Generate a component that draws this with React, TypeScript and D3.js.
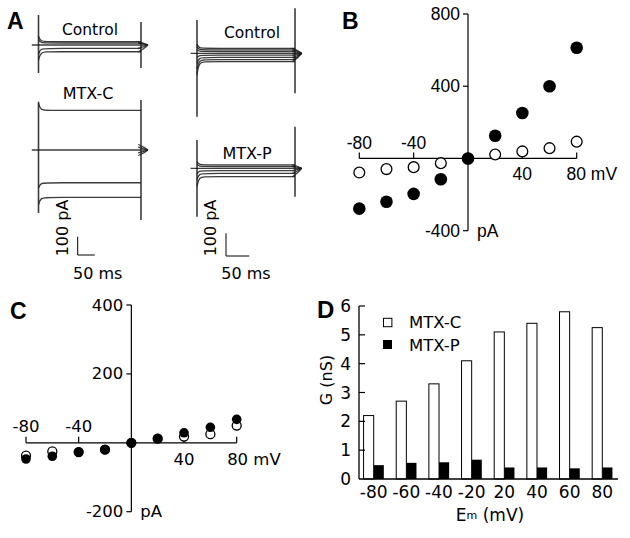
import * as d3 from "d3";

// ---- panel A: whole-cell current traces (pA), pulse onsets/offsets ----
const ctlLeftSteady = [18, 11, 0, -18, -37];
const ctlLeftPeak = [49, 30, 0, -50, -82];
const ctlLeftTail = [18, 11, -18, -37];
const ctlLeftOn = [164, -153];
const ctlLeftOff = [126, -126];

const mtxCSteady = [216, 0, -179, -259];
const mtxCPeak = [256, 0, -208, -300];
const mtxCTail = [30, 15, -15, -30];
const mtxCOn = [264, -344];
const mtxCOff = [273, -383];

const ctlRightSteady = [22, 15, 8, 0, -8, -18, -28, -37];
const ctlRightPeak = [40, 28, 16, 0, -20, -45, -70, -95];
const ctlRightTail = [22, 15, 8, -8, -18, -28, -37];
const ctlRightOn = [147, -279];
const ctlRightOff = [198, -176];

const mtxPSteady = [15, 8, 0, -10, -22, -37];
const mtxPPeak = [30, 18, 0, -25, -50, -80];
const mtxPTail = [15, 8, -10, -22, -37];
const mtxPOn = [125, -213];
const mtxPOff = [183, -125];

// ---- panel B / C: I-V relations ----
const ivVoltages = [-80, -60, -40, -20, 0, 20, 40, 60, 80];
const ivMtxC = [-278, -240, -196, -115, 0, 126, 252, 400, 613];
const ivControlB = [-78, -59, -48, -26, 0, 22, 39, 57, 93];
const ivMtxP = [-47, -39, -27, -20, 0, 12, 29, 45, 68];
const ivControlC = [-37, -25, -27, -20, 0, 12, 18, 25, 50];
const bYTicks = [800, 400, -400];
const cYTicks = [400, 200, -200];
const xTicks = [-80, -40, 40, 80];

// ---- panel D: conductance ----
const gVoltages = ["-80", "-60", "-40", "-20", "20", "40", "60", "80"];
const gMtxC = [2.2, 2.7, 3.3, 4.1, 5.1, 5.4, 5.8, 5.25];
const gMtxP = [0.48, 0.56, 0.58, 0.67, 0.4, 0.4, 0.37, 0.4];
const gTicks = [0, 1, 2, 3, 4, 5, 6];

const TXT = "'DejaVu Sans', Verdana, sans-serif";
const ARIAL = "'Liberation Sans', Arial, sans-serif";

type RecProps = {
  x: d3.ScaleLinear<number, number>;
  base: number;
  px100: number;
  dur: number;
  steady: number[];
  peak: number[];
  tails: number[];
  on: number[];
  off: number[];
};

const Recording = ({ x, base, px100, dur, steady, peak, tails, on, off }: RecProps) => {
  const y = d3.scaleLinear().domain([0, 100]).range([base, base - px100]);
  const tail = dur * 0.068;
  const smooth = d3
    .line<[number, number]>()
    .x((d) => x(d[0]))
    .y((d) => y(d[1]))
    .curve(d3.curveBasis);
  const tailLine = d3
    .line<[number, number]>()
    .x((d) => x(d[0]))
    .y((d) => y(d[1]))
    .curve(d3.curveMonotoneX);
  return (
    <g fill="none" stroke="#1a1a1a" strokeWidth={1.3} strokeOpacity={0.85}>
      {steady.map((s, i) =>
        s === 0 ? (
          <path key={i} d={smooth([[-dur * 0.065, 0], [dur + tail, 0]]) ?? ""} />
        ) : (
          <path
            key={i}
            d={
              smooth([
                [0, peak[i]],
                [dur * 0.02, s],
                [dur * 0.1, s],
                [dur, s],
              ]) ?? ""
            }
          />
        )
      )}
      {tails.map((t, i) => (
        <path key={"t" + i} d={tailLine([[dur - tail * 0.4, t], [dur + tail * 0.3, t * 0.6], [dur + tail, 0]]) ?? ""} />
      ))}
      <line x1={x(0)} x2={x(0)} y1={y(on[0])} y2={y(on[1])} strokeWidth={1.6} />
      <line x1={x(dur)} x2={x(dur)} y1={y(off[0])} y2={y(off[1])} strokeWidth={1.6} />
    </g>
  );
};

const ScaleBar = ({ x0, y1, w, h, lx }: { x0: number; y1: number; w: number; h: number; lx: number }) => (
  <g>
    <path d={`M${x0},${y1 - h}V${y1}H${x0 + w}`} fill="none" stroke="#000" strokeWidth={1} />
    <text
      transform={`translate(${lx},${228}) rotate(-90)`}
      textAnchor="middle"
      dominantBaseline="central"
      fontSize={16}
    >
      100 pA
    </text>
    <text x={x0 + 20} y={273} textAnchor="middle" dominantBaseline="central" fontSize={16}>
      50 ms
    </text>
  </g>
);

const IV = (props: {
  x: d3.ScaleLinear<number, number>;
  y: d3.ScaleLinear<number, number>;
  yTicks: number[];
  filled: number[];
  open: number[];
  rF: number;
  rO: number;
  font: string;
  fs: number;
  labelGap: number;
}) => {
  const { x, y, yTicks, filled, open, rF, rO, font, fs, labelGap } = props;
  const [yTop, yBot] = [y(y.domain()[1]), y(y.domain()[0])];
  const x0 = x(0);
  const y0 = y(0);
  return (
    <g fontFamily={font} fontSize={fs}>
      <line x1={x0} x2={x0} y1={yTop} y2={yBot} stroke="#000" strokeWidth={1.2} />
      <line x1={x(-80)} x2={x(80)} y1={y0} y2={y0} stroke="#000" strokeWidth={1.2} />
      {yTicks.map((t) => (
        <g key={t}>
          <line x1={x0 - 5} x2={x0} y1={y(t)} y2={y(t)} stroke="#000" strokeWidth={1.2} />
          <text x={x0 - 8} y={y(t)} textAnchor="end" dominantBaseline="central">
            {t}
          </text>
        </g>
      ))}
      <text x={x0 + 9} y={yBot} dominantBaseline="central">
        pA
      </text>
      {xTicks.map((t) => (
        <g key={t}>
          <line x1={x(t)} x2={x(t)} y1={y0 - 6} y2={y0} stroke="#000" strokeWidth={1.2} />
          {t < 0 ? (
            <text x={x(t)} y={y0 - labelGap} textAnchor="middle" dominantBaseline="central">
              {t}
            </text>
          ) : (
            <text
              x={x(t)}
              y={y0 + labelGap + 1}
              textAnchor={t === 80 ? "start" : "middle"}
              dx={t === 80 ? -fs * 0.58 : 0}
              dominantBaseline="central"
            >
              {t === 80 ? "80 mV" : t}
            </text>
          )}
        </g>
      ))}
      {open.map((v, i) => (
        <circle key={"o" + i} cx={x(ivVoltages[i])} cy={y(v)} r={rO} fill="#fff" stroke="#000" strokeWidth={1.3} />
      ))}
      {filled.map((v, i) => (
        <circle key={"f" + i} cx={x(ivVoltages[i])} cy={y(v)} r={rF} fill="#000" />
      ))}
    </g>
  );
};

export default function App() {
  // panel A scales (ms -> px)
  const leftMs = d3.scaleLinear().domain([0, 300]).range([38.5, 141]);
  const rightMs = d3.scaleLinear().domain([0, 210]).range([197, 295]);

  // panel B
  const bx = d3.scaleLinear().domain([-80, 80]).range([359.3, 576.7]);
  const by = d3.scaleLinear().domain([-400, 800]).range([230.7, 14]);
  // panel C
  const cx = d3.scaleLinear().domain([-80, 80]).range([26, 236.7]);
  const cy = d3.scaleLinear().domain([-200, 400]).range([511.7, 305]);
  // panel D
  const dx = d3.scaleBand<string>().domain(gVoltages).range([359, 617]).paddingInner(0.38).paddingOuter(0.14);
  const dy = d3.scaleLinear().domain([0, 6]).range([479, 306]);
  const half = dx.bandwidth() / 2;

  return (
    <svg
      width={630}
      height={538}
      style={{ position: "absolute", left: 0, top: 0, background: "#fff" }}
      fontFamily={TXT}
    >
      <rect width={630} height={538} fill="#fff" />
      {/* Panel A */}
      <text x={7} y={29} fontSize={23} fontWeight={900} fontFamily={ARIAL}>
        A
      </text>
      <text x={90} y={30} textAnchor="middle" dominantBaseline="central" fontSize={15.5}>
        Control
      </text>
      <text x={88} y={93} textAnchor="middle" dominantBaseline="central" fontSize={16}>
        MTX-C
      </text>
      <text x={252} y={33} textAnchor="middle" dominantBaseline="central" fontSize={15.5}>
        Control
      </text>
      <text x={247} y={153} textAnchor="middle" dominantBaseline="central" fontSize={16}>
        MTX-P
      </text>
      <Recording x={leftMs} base={45} px100={18.3} dur={300} steady={ctlLeftSteady} peak={ctlLeftPeak} tails={ctlLeftTail} on={ctlLeftOn} off={ctlLeftOff} />
      <Recording x={leftMs} base={150} px100={18.3} dur={300} steady={mtxCSteady} peak={mtxCPeak} tails={mtxCTail} on={mtxCOn} off={mtxCOff} />
      <Recording x={rightMs} base={53.3} px100={22.7} dur={210} steady={ctlRightSteady} peak={ctlRightPeak} tails={ctlRightTail} on={ctlRightOn} off={ctlRightOff} />
      <Recording x={rightMs} base={168.3} px100={22.7} dur={210} steady={mtxPSteady} peak={mtxPPeak} tails={mtxPTail} on={mtxPOn} off={mtxPOff} />
      <ScaleBar x0={77.7} y1={255} w={leftMs(50) - leftMs(0)} h={18.3} lx={62} />
      <ScaleBar x0={226} y1={256} w={rightMs(50) - rightMs(0)} h={22.7} lx={210} />

      {/* Panel B */}
      <text x={342} y={29} fontSize={23} fontWeight={900} fontFamily={ARIAL}>
        B
      </text>
      <IV x={bx} y={by} yTicks={bYTicks} filled={ivMtxC} open={ivControlB} rF={6.3} rO={5.4} font={ARIAL} fs={17.5} labelGap={15} />

      {/* Panel C */}
      <text x={10} y={319} fontSize={23} fontWeight={900} fontFamily={ARIAL}>
        C
      </text>
      <IV x={cx} y={cy} yTicks={cYTicks} filled={ivMtxP} open={ivControlC} rF={4.8} rO={4.5} font={TXT} fs={16.5} labelGap={16} />

      {/* Panel D */}
      <text x={317} y={318} fontSize={24} fontWeight={900} fontFamily={ARIAL}>
        D
      </text>
      <g fontSize={17}>
        {gVoltages.map((v, i) => (
          <g key={v}>
            <rect x={dx(v)!} y={dy(gMtxC[i])} width={half} height={dy(0) - dy(gMtxC[i])} fill="#fff" stroke="#000" strokeWidth={1} />
            <rect x={dx(v)! + half} y={dy(gMtxP[i])} width={half} height={dy(0) - dy(gMtxP[i])} fill="#000" />
            <text x={dx(v)! + half} y={492} textAnchor="middle" dominantBaseline="central">
              {v}
            </text>
          </g>
        ))}
        <line x1={359} x2={618} y1={dy(0)} y2={dy(0)} stroke="#000" strokeWidth={1.3} />
        <line x1={359} x2={359} y1={dy(6)} y2={dy(0)} stroke="#000" strokeWidth={1.3} />
        {gTicks.map((t) => (
          <g key={t}>
            {t > 0 && <line x1={359} x2={365} y1={dy(t)} y2={dy(t)} stroke="#000" strokeWidth={1.2} />}
            <text x={351} y={dy(t)} textAnchor="end" dominantBaseline="central">
              {t}
            </text>
          </g>
        ))}
        <text transform="translate(326,380) rotate(-90)" textAnchor="middle" dominantBaseline="central" fontSize={16}>
          G (nS)
        </text>
        <text x={490} y={515} textAnchor="middle" dominantBaseline="central" fontSize={17}>
          E<tspan fontSize={11}>m</tspan> (mV)
        </text>
        <rect x={383.5} y={318.3} width={8.4} height={8.4} fill="#fff" stroke="#000" strokeWidth={1} />
        <rect x={383} y={340} width={9} height={9} fill="#000" />
        <text x={409} y={322} dominantBaseline="central" fontSize={16.5}>
          MTX-C
        </text>
        <text x={409} y={345} dominantBaseline="central" fontSize={16.5}>
          MTX-P
        </text>
      </g>
    </svg>
  );
}
